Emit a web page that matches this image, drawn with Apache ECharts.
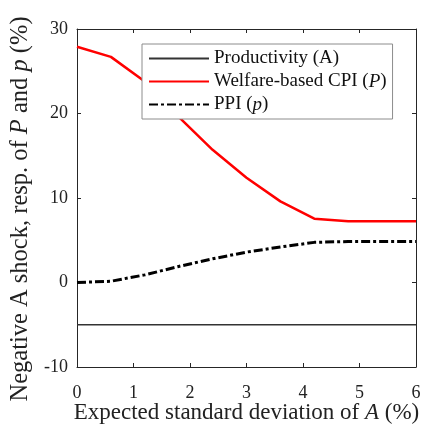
<!DOCTYPE html>
<html>
<head>
<meta charset="utf-8">
<script src="https://cdn.jsdelivr.net/npm/echarts@6/dist/echarts.min.js"></script>
<style>
  html, body { margin: 0; padding: 0; background: #fff; }
  #chart { width: 432px; height: 425px; }
</style>
</head>
<body>
<div id="chart"></div>
<script>
// expected std of A (%)
var sigma = [0, 0.6, 1.2, 1.8, 2.4, 3.0, 3.6, 4.2, 4.8, 5.4, 6.0];
// responses (%)
var productivity = [-5, -5, -5, -5, -5, -5, -5, -5, -5, -5, -5];
var cpi = [27.9, 26.7, 23.8, 19.6, 15.7, 12.4, 9.6, 7.55, 7.25, 7.25, 7.25];
var ppi = [0.0, 0.15, 0.9, 1.9, 2.8, 3.6, 4.2, 4.75, 4.85, 4.85, 4.85];
var xTicks = [0, 1, 2, 3, 4, 5, 6];
var yTicks = [-10, 0, 10, 20, 30];

var serif = '"Liberation Serif", "DejaVu Serif", serif';
var axisColor = '#262626';
var textColor = '#222';

function pairs(ys) {
  return sigma.map(function (x, i) { return [x, ys[i]]; });
}

var myChart = echarts.init(document.getElementById('chart'));
var option = {
  animation: false,
  backgroundColor: '#fff',
  textStyle: { fontFamily: serif },
  grid: { left: 77, right: 16, top: 29, bottom: 58, outerBoundsMode: 'none' },
  legend: {
    left: 142,
    top: 44,
    orient: 'vertical',
    backgroundColor: '#fff',
    borderColor: '#8c8c8c',
    borderWidth: 1,
    padding: [4, 6, 4, 6],
    itemGap: 2,
    itemWidth: 60,
    itemHeight: 14,
    itemStyle: { color: 'transparent', borderWidth: 0, opacity: 0 }, // 只画线，不画拐点
    textStyle: {
      fontFamily: serif, fontSize: 19, lineHeight: 21, color: '#111',
      rich: { i: { fontFamily: serif, fontSize: 19, lineHeight: 21, fontStyle: 'italic', color: '#111' } }
    },
    formatter: function (name) {
      if (name === 'Welfare-based CPI (P)') return 'Welfare-based CPI ({i|P})';
      if (name === 'PPI (p)') return 'PPI ({i|p})';
      return name;
    },
    data: ['Productivity (A)', 'Welfare-based CPI (P)', 'PPI (p)']
  },
  xAxis: [{
    type: 'value',
    min: 0, max: 6, interval: 1,
    name: 'Expected standard deviation of {i|A} (%)',
    nameLocation: 'middle',
    nameGap: 34,
    nameMoveOverlap: false,
    nameTextStyle: {
      fontFamily: serif, fontSize: 23, color: textColor,
      rich: { i: { fontFamily: serif, fontSize: 23, fontStyle: 'italic', color: textColor } }
    },
    axisLine: { onZero: false, lineStyle: { color: axisColor, width: 1 } },
    axisTick: { inside: true, length: 4, lineStyle: { color: axisColor } },
    axisLabel: {
      margin: 17, fontFamily: serif, fontSize: 18, color: textColor,
      formatter: function (v) { return xTicks.indexOf(v) >= 0 ? String(v) : ''; }
    },
    splitLine: { show: false }
  }, {
    type: 'value', position: 'top',
    min: 0, max: 6, interval: 1,
    axisLine: { onZero: false, lineStyle: { color: axisColor, width: 1 } },
    axisTick: { inside: true, length: 4, lineStyle: { color: axisColor } },
    axisLabel: { show: false },
    splitLine: { show: false }
  }],
  yAxis: [{
    type: 'value',
    min: -10, max: 30, interval: 10,
    name: 'Negative A shock, resp. of {i|P} and {i|p} (%)',
    nameLocation: 'middle',
    nameGap: 44,
    nameMoveOverlap: false,
    nameRotate: 90,
    nameTextStyle: {
      fontFamily: serif, fontSize: 24.5, color: textColor,
      padding: [0, 22, 0, 0],
      rich: { i: { fontFamily: serif, fontSize: 24.5, fontStyle: 'italic', color: textColor } }
    },
    axisLine: { show: true, onZero: false, lineStyle: { color: axisColor, width: 1 } },
    axisTick: { show: true, inside: true, length: 4, lineStyle: { color: axisColor } },
    axisLabel: {
      margin: 9, fontFamily: serif, fontSize: 18, color: textColor,
      formatter: function (v) { return yTicks.indexOf(v) >= 0 ? String(v) : ''; }
    },
    splitLine: { show: false }
  }, {
    type: 'value', position: 'right',
    min: -10, max: 30, interval: 10,
    axisLine: { show: true, onZero: false, lineStyle: { color: axisColor, width: 1 } },
    axisTick: { show: true, inside: true, length: 4, lineStyle: { color: axisColor } },
    axisLabel: { show: false },
    splitLine: { show: false }
  }],
  series: [{
    name: 'Productivity (A)',
    type: 'line',
    symbol: 'none',
    lineStyle: { color: '#333', width: 1.6 },
    itemStyle: { color: '#333' },
    data: pairs(productivity)
  }, {
    name: 'Welfare-based CPI (P)',
    type: 'line',
    symbol: 'none',
    lineStyle: { color: '#ff0000', width: 2.5 },
    itemStyle: { color: '#ff0000' },
    data: pairs(cpi)
  }, {
    name: 'PPI (p)',
    type: 'line',
    symbol: 'none',
    lineStyle: { color: '#000', width: 3, type: [9, 3, 3, 3] },
    itemStyle: { color: '#000' },
    data: pairs(ppi)
  }]
};
myChart.setOption(option);
</script>
</body>
</html>
